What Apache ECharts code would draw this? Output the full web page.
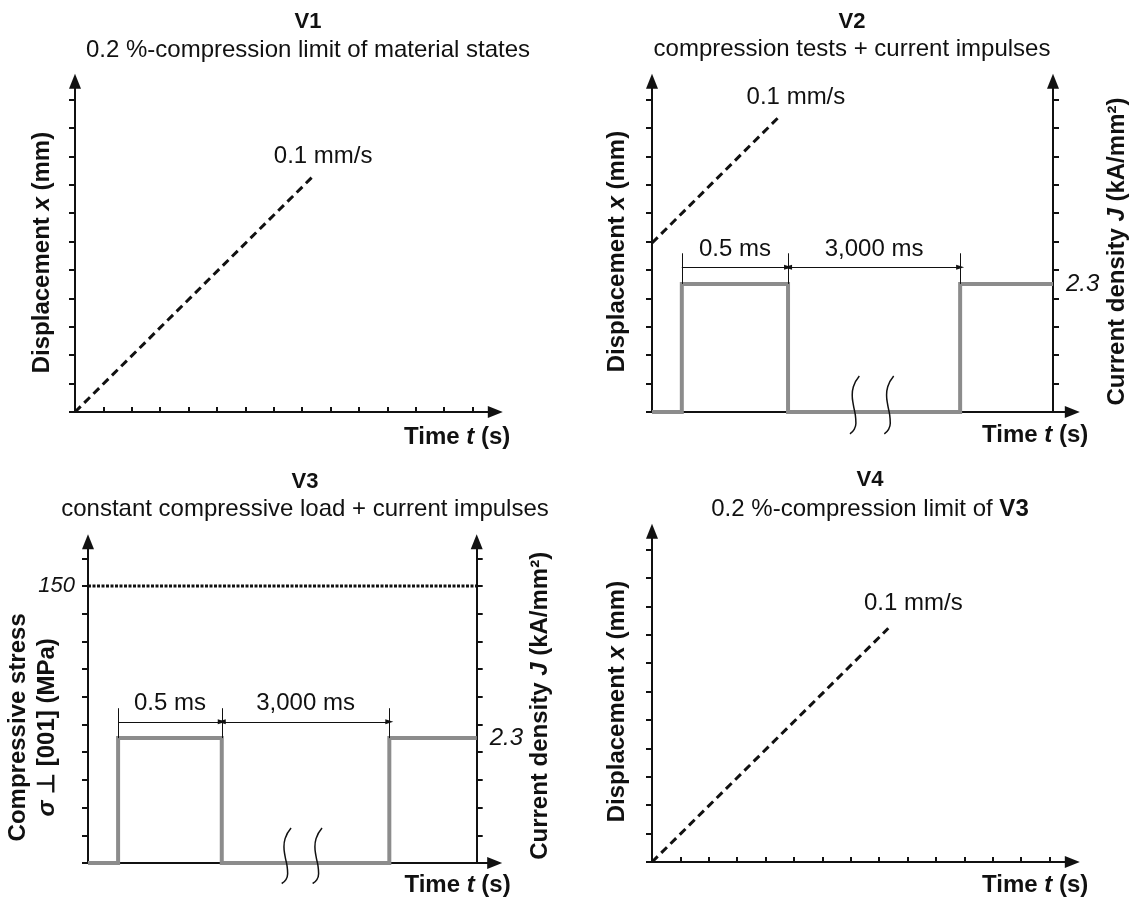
<!DOCTYPE html>
<html><head><meta charset="utf-8">
<script src="https://cdn.jsdelivr.net/npm/echarts@6/dist/echarts.min.js"></script>
<style>html,body{margin:0;padding:0;background:#fff}#c{width:1138px;height:901px}</style>
</head><body><div id="c"></div>
<script>
// ================= DATA =================
const panelTitles = ['V1', 'V2', 'V3', 'V4'];
const panelSubtitles = [
  '0.2 %-compression limit of material states',
  'compression tests + current impulses',
  'constant compressive load + current impulses',
  '0.2 %-compression limit of {b|V3}'
];
const rateLabel = '0.1 mm/s';
const timeTicks = [1, 2, 3, 4, 5, 6, 7, 8, 9, 10, 11, 12, 13, 14];
const displacementTicks = [0, 1, 2, 3, 4, 5, 6, 7, 8, 9, 10, 11];
const stressTicks = [0, 15, 30, 45, 60, 75, 90, 105, 120, 135, 150, 165];   // MPa
const currentTicks = [0, 0.51, 1.02, 1.53, 2.04, 2.55, 3.06, 3.57, 4.08, 4.59, 5.10, 5.61]; // kA/mm²
const stressLabels = [150];
const currentLabels = [2.3];

// displacement ramps (time units, displacement units)
const v1Ramp = [[0, 0], [8.35, 8.27]];
const v2Ramp = [[0, 5.95], [4.47, 10.39]];
const v4Ramp = [[0, 0], [8.32, 8.23]];

// current impulses (time units, kA/mm²)
const pulseLevel = 2.3;
const v2Pulse = [[0, 0], [1.05, 0], [1.05, 2.3], [4.79, 2.3], [4.79, 0], [10.85, 0], [10.85, 2.3], [14.12, 2.3]];
const v3Pulse = [[0, 0], [1.06, 0], [1.06, 2.3], [4.71, 2.3], [4.71, 0], [10.61, 0], [10.61, 2.3], [13.69, 2.3]];
const intervalLabels = ['0.5 ms', '3,000 ms'];
const v2Edges = [1.05, 4.79, 10.85];
const v3Edges = [1.06, 4.71, 10.61];
const dimLevel = 2.6;
const extTop = 2.85;

// constant compressive load (MPa)
const v3Stress = [[0, 150], [13.69, 150]];

// axis-break marks (time units, grid units)
const v2Breaks = [
  [[7.30, 1.27], [7.09, 0.89], [7.05, 0.60], [7.09, 0.25], [7.16, -0.11], [7.18, -0.40], [7.12, -0.61], [6.97, -0.77]],
  [[8.51, 1.27], [8.30, 0.89], [8.26, 0.60], [8.30, 0.25], [8.37, -0.11], [8.39, -0.40], [8.33, -0.61], [8.18, -0.77]]
];
const v3Breaks = [
  [[7.15, 1.26], [6.94, 0.88], [6.90, 0.59], [6.94, 0.24], [7.01, -0.11], [7.03, -0.39], [6.97, -0.60], [6.82, -0.74]],
  [[8.24, 1.26], [8.03, 0.88], [7.99, 0.59], [8.03, 0.24], [8.10, -0.11], [8.12, -0.39], [8.06, -0.60], [7.91, -0.74]]
];

// ================= STYLE / LAYOUT =================
const F = "'Liberation Sans', Arial, Helvetica, sans-serif";
const INK = '#111';
const GREY = '#8c8c8c';
const UNIT = 28.4, UNIT_V3 = 27.7;
const X_MAX = 14.8, Y_MAX = 11.65, X_MAX_V3 = 14.32, Y_MAX_V3 = 11.6;

const grids = [
  { left: 75,  top: 412 - Y_MAX * UNIT, width: X_MAX * UNIT, height: Y_MAX * UNIT },
  { left: 652, top: 412 - Y_MAX * UNIT, width: X_MAX * UNIT, height: Y_MAX * UNIT },
  { left: 88,  top: 863 - Y_MAX_V3 * UNIT_V3, width: X_MAX_V3 * UNIT, height: Y_MAX_V3 * UNIT_V3 },
  { left: 652, top: 862 - Y_MAX * UNIT, width: X_MAX * UNIT, height: Y_MAX * UNIT }
].map(g => Object.assign({ outerBoundsMode: 'none', containLabel: false }, g));

const titlePos = [[308, 22, 50], [852, 22, 49], [305, 482, 509], [870, 480, 509]];

const italicRich = { i: { fontFamily: F, fontSize: 24, fontWeight: 'bold', fontStyle: 'italic', color: INK } };
function nameStyle(extra) {
  return Object.assign({ fontFamily: F, fontSize: 24, fontWeight: 'bold', color: INK, rich: italicRich }, extra || {});
}
const axisLineBase = { show: true, onZero: false, lineStyle: { color: INK, width: 2 } };

function xAx(gi, max, ticks, gap, padTop) {
  return {
    type: 'value', gridIndex: gi, min: 0, max: max, position: 'bottom',
    axisLine: Object.assign({}, axisLineBase, { symbol: ['none', 'triangle'], symbolSize: [12, 15] }),
    axisTick: { show: !!ticks, inside: true, length: 5, customValues: ticks || [], lineStyle: { color: INK, width: 2 } },
    axisLabel: { show: false }, splitLine: { show: false },
    name: 'Time {i|t} (s)', nameLocation: 'end', nameGap: gap, nameMoveOverlap: false,
    nameTextStyle: nameStyle({ align: 'right', verticalAlign: 'top', padding: [padTop, 0, 0, 0] })
  };
}
function yAx(gi, o) {
  return {
    type: 'value', gridIndex: gi, min: 0, max: o.max, position: o.position || 'left', offset: o.offset || 0,
    show: o.show !== false,
    axisLine: Object.assign({}, axisLineBase, { symbol: ['none', 'triangle'], symbolSize: [12, 15] }),
    axisTick: { show: true, inside: false, length: 6, customValues: o.ticks, lineStyle: { color: INK, width: 2 } },
    axisLabel: o.labels ? {
      show: true, customValues: o.labels, formatter: v => String(v), margin: 13,
      fontFamily: F, fontSize: o.labelSize || 22, fontStyle: 'italic', color: INK
    } : { show: false },
    splitLine: { show: false },
    name: o.name, nameLocation: 'middle', nameGap: o.nameGap, nameRotate: 90, nameMoveOverlap: false,
    nameTextStyle: nameStyle(Object.assign({ padding: [0, o.shift || 0, 0, 0] }, o.nameExtra || {}))
  };
}

const xAxes = [
  xAx(0, X_MAX, timeTicks, 15, 13),
  xAx(1, X_MAX, null, 16, 11),
  xAx(2, X_MAX_V3, null, 16, 10),
  xAx(3, X_MAX, timeTicks, 16, 11)
];
const dispName = 'Displacement {i|x} (mm)';
const currName = 'Current density {i|J} (kA/mm²)';
const yAxes = [
  yAx(0, { max: Y_MAX, ticks: displacementTicks, name: dispName, nameGap: 21, shift: 12 }),
  yAx(1, { max: Y_MAX, ticks: displacementTicks, name: dispName, nameGap: 23, shift: 10 }),
  yAx(1, { max: Y_MAX * 0.51, ticks: currentTicks, labels: currentLabels, labelSize: 24, position: 'right',
           offset: 1053 - (652 + X_MAX * UNIT), name: currName, nameGap: 52, shift: 10 }),
  yAx(2, { max: Y_MAX_V3 * 15, ticks: stressTicks, labels: stressLabels, labelSize: 22,
           name: 'Compressive stress\n{i|σ} ⊥ [001] (MPa)', nameGap: 26, shift: 50,
           nameExtra: { lineHeight: 29, rich: { i: Object.assign({ lineHeight: 29 }, italicRich.i) } } }),
  yAx(2, { max: Y_MAX_V3 * 0.51, ticks: currentTicks, labels: currentLabels, labelSize: 24, position: 'right',
           offset: 476.7 - (88 + X_MAX_V3 * UNIT), name: currName, nameGap: 52, shift: 7 }),
  yAx(2, { max: Y_MAX_V3, ticks: [], show: false, name: '' }),
  yAx(3, { max: Y_MAX, ticks: displacementTicks, name: dispName, nameGap: 23, shift: 10 })
];

function rateMark(points, offset) {
  const p = points[points.length - 1];
  return {
    symbol: 'circle', symbolSize: 1, silent: true, animation: false,
    itemStyle: { color: 'rgba(0,0,0,0)' },
    label: { show: true, position: 'inside', formatter: rateLabel, offset: offset, fontFamily: F, fontSize: 24, color: INK },
    data: [{ coord: p }]
  };
}
function ramp(xi, yi, data, offset) {
  return {
    type: 'line', xAxisIndex: xi, yAxisIndex: yi, data: data, symbol: 'none', silent: true,
    lineStyle: { color: INK, width: 3, type: [8, 5] }, markPoint: rateMark(data, offset)
  };
}
function pulseMarks(edges) {
  const ext = edges.map(x => [{ coord: [x, extTop] }, { coord: [x, pulseLevel] }]);
  const dims = [
    [{ coord: [edges[0], dimLevel], symbol: 'none', label: { show: true, formatter: intervalLabels[0] } },
     { coord: [edges[1], dimLevel], symbol: 'triangle' }],
    [{ coord: [edges[1], dimLevel], symbol: 'triangle', label: { show: true, formatter: intervalLabels[1] } },
     { coord: [edges[2], dimLevel], symbol: 'triangle' }]
  ];
  return {
    silent: true, animation: false, symbol: ['none', 'none'], symbolSize: [5, 8],
    lineStyle: { color: INK, width: 1, type: 'solid' },
    label: { show: false, position: 'middle', distance: 6, fontFamily: F, fontSize: 24, color: INK },
    emphasis: { disabled: true },
    data: ext.concat(dims)
  };
}
function pulse(xi, yi, data, edges) {
  return {
    type: 'line', xAxisIndex: xi, yAxisIndex: yi, data: data, symbol: 'none', silent: true, z: 3,
    lineStyle: { color: GREY, width: 4, join: 'miter', cap: 'butt' }, markLine: pulseMarks(edges)
  };
}
function breakMark(xi, yi, data) {
  return {
    type: 'line', xAxisIndex: xi, yAxisIndex: yi, data: data, symbol: 'none', silent: true, z: 4,
    smooth: 0.5, clip: false, lineStyle: { color: INK, width: 1.5 }
  };
}

const series = [
  ramp(0, 0, v1Ramp, [11, -21]),
  ramp(1, 1, v2Ramp, [17, -20]),
  pulse(1, 2, v2Pulse, v2Edges),
  breakMark(1, 1, v2Breaks[0]),
  breakMark(1, 1, v2Breaks[1]),
  {
    type: 'line', xAxisIndex: 2, yAxisIndex: 3, data: v3Stress, symbol: 'none', silent: true,
    lineStyle: { color: INK, width: 3, type: [3, 1.5] }
  },
  pulse(2, 4, v3Pulse, v3Edges),
  breakMark(2, 5, v3Breaks[0]),
  breakMark(2, 5, v3Breaks[1]),
  ramp(3, 6, v4Ramp, [25, -25])
];

const graphics = [];
panelTitles.forEach((t, i) => {
  const p = titlePos[i];
  graphics.push({ type: 'text', x: p[0], y: p[1], silent: true,
    style: { text: t, fontFamily: F, fontSize: 22, fontWeight: 'bold', fill: INK, align: 'center', verticalAlign: 'middle' } });
  graphics.push({ type: 'text', x: p[0], y: p[2], silent: true,
    style: { text: panelSubtitles[i], fontFamily: F, fontSize: 24, fill: INK, align: 'center', verticalAlign: 'middle',
      rich: { b: { fontFamily: F, fontSize: 24, fontWeight: 'bold', fill: INK } } } });
});

const chart = echarts.init(document.getElementById('c'), null, { renderer: 'canvas' });
chart.setOption({
  backgroundColor: '#fff',
  animation: false,
  grid: grids,
  xAxis: xAxes,
  yAxis: yAxes,
  series: series,
  graphic: { elements: graphics }
});
</script></body></html>
